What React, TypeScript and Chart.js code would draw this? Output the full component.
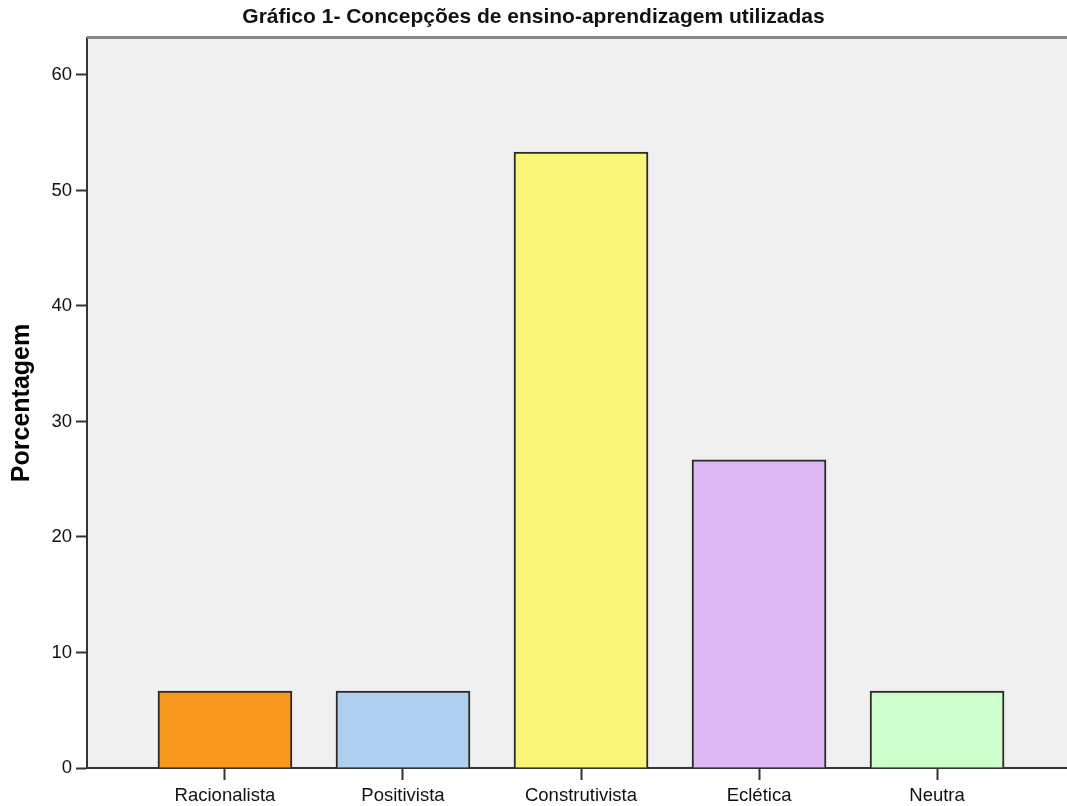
import React, { useEffect, useRef } from "react";
import { Chart, registerables } from "chart.js";

Chart.register(...registerables);

const chartTitle = "Gráfico 1- Concepções de ensino-aprendizagem utilizadas";
const yAxisTitle = "Porcentagem";
const categories = ["Racionalista", "Positivista", "Construtivista", "Eclética", "Neutra"];
const percentages = [6.67, 6.67, 53.33, 26.67, 6.67];
const barColors = ["#f7991f", "#aecfee", "#faf67a", "#deb8f2", "#ccffcc"];
const yTickValues = [0, 10, 20, 30, 40, 50, 60];

const W = 1067;
const H = 806;

const framePlugin = {
  id: "frame",
  beforeDraw(chart: any) {
    const { ctx, chartArea } = chart;
    const { left, top, right, bottom } = chartArea;
    ctx.save();
    ctx.fillStyle = "#f0f0f0";
    ctx.fillRect(left, top, right - left, bottom - top);
    ctx.restore();
  },
  afterDraw(chart: any) {
    const { ctx, chartArea } = chart;
    const { left, top, right } = chartArea;
    ctx.save();
    ctx.fillStyle = "#8a8a8a";
    ctx.fillRect(left, top - 2, right - left, 3);
    ctx.restore();
  },
};

export default function App() {
  const ref = useRef<HTMLCanvasElement | null>(null);

  useEffect(() => {
    document.body.style.margin = "0";
    const canvas = ref.current;
    if (!canvas) return;
    const chart = new Chart(canvas, {
      type: "bar",
      data: {
        datasets: [
          {
            data: percentages.map((v, i) => ({ x: i, y: v })),
            backgroundColor: barColors,
            borderColor: "#2a2a2a",
            borderWidth: 2,
            barThickness: 134,
          },
        ],
      },
      options: {
        animation: false,
        responsive: false,
        devicePixelRatio: 1,
        layout: { padding: 0 },
        plugins: {
          legend: { display: false },
          tooltip: { enabled: false },
          title: {
            display: true,
            text: chartTitle,
            color: "#111",
            font: { family: "'Liberation Sans', Arial, sans-serif", size: 21, weight: "bold", lineHeight: 1.2 },
            padding: { top: 5, bottom: 7.8 },
          },
        },
        scales: {
          x: {
            type: "linear",
            offset: false,
            min: -0.775,
            max: 4.73,
            afterFit(scale: any) {
              scale.height = 38;
            },
            afterBuildTicks(scale: any) {
              scale.ticks = categories.map((_, i) => ({ value: i }));
            },
            ticks: {
              callback: (value: any) => categories[Math.round(Number(value))] ?? "",
              color: "#111",
              font: { family: "'Liberation Sans', Arial, sans-serif", size: 18.5 },
              padding: 5,
              maxRotation: 0,
              autoSkip: false,
            },
            grid: {
              display: true,
              offset: false,
              drawOnChartArea: false,
              drawTicks: true,
              tickLength: 12,
              tickColor: "#333",
              tickWidth: 2,
              color: "#333",
            },
            border: { display: true, color: "#333", width: 2 },
          },
          y: {
            type: "linear",
            min: 0,
            max: 63.2,
            afterFit(scale: any) {
              scale.width = 87;
            },
            afterBuildTicks(scale: any) {
              scale.ticks = yTickValues.map((v) => ({ value: v }));
            },
            ticks: {
              color: "#111",
              font: { family: "'Liberation Sans', Arial, sans-serif", size: 18.5 },
              padding: 4,
            },
            grid: {
              display: true,
              drawOnChartArea: false,
              drawTicks: true,
              tickLength: 11,
              tickColor: "#333",
              tickWidth: 2,
              color: "#333",
            },
            border: { display: true, color: "#333", width: 2 },
            title: {
              display: true,
              text: yAxisTitle,
              color: "#000",
              font: { family: "'Liberation Sans', Arial, sans-serif", size: 25, weight: "bold", lineHeight: 1.2 },
              padding: { top: 7, bottom: 0 },
            },
          },
        },
      },
      plugins: [framePlugin],
    } as any);
    return () => chart.destroy();
  }, []);

  return (
    <div style={{ width: W, height: H, background: "#fff" }}>
      <canvas ref={ref} width={W} height={H} style={{ display: "block" }} />
    </div>
  );
}
